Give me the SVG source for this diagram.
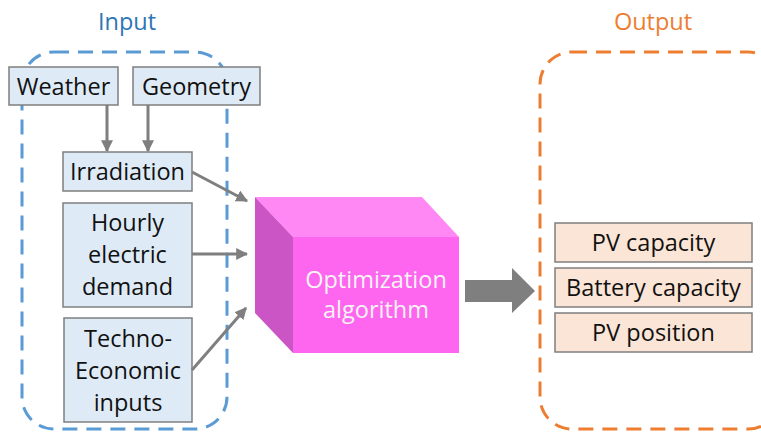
<svg xmlns="http://www.w3.org/2000/svg" width="761" height="433" viewBox="0 0 761 433">
<defs>
<style>
.t{font-family:"Open Sans","Liberation Sans",sans-serif;font-size:23.5px;fill:#111;text-anchor:middle}
.lbl{font-family:"Open Sans","Liberation Sans",sans-serif;font-size:23.5px;text-anchor:middle}
.in{fill:#DEEBF7;stroke:#7F7F7F;stroke-width:1.5}
.out{fill:#FBE5D6;stroke:#7F7F7F;stroke-width:1.5}
.c{stroke:#7F7F7F;stroke-width:3;fill:none;marker-end:url(#ah)}
</style>
<marker id="ah" viewBox="0 0 10 10" refX="9" refY="5" markerWidth="4" markerHeight="4" orient="auto" markerUnits="strokeWidth">
<path d="M0,0 L10,5 L0,10 z" fill="#7F7F7F"/>
</marker>
</defs>
<rect width="761" height="433" fill="#fff"/>
<g id="input-group">
<rect x="22" y="52" width="205" height="377" rx="32" fill="none" stroke="#5B9BD5" stroke-width="3" stroke-dasharray="15 9"/>
<text class="lbl" x="127" y="30" fill="#2E75B6">Input</text>
</g>
<g id="output-group">
<rect x="540" y="52" width="240" height="377" rx="32" fill="none" stroke="#ED7D31" stroke-width="3" stroke-dasharray="15 9"/>
<text class="lbl" x="653" y="30" fill="#ED7D31">Output</text>
</g>
<g id="weather"><rect class="in" x="9" y="67" width="109" height="38"/><text class="t" x="63.5" y="95">Weather</text></g>
<g id="geometry"><rect class="in" x="133" y="67" width="127" height="38"/><text class="t" x="196.5" y="95">Geometry</text></g>
<g id="irradiation"><rect class="in" x="63" y="152" width="129" height="39"/><text class="t" x="127.5" y="180">Irradiation</text></g>
<g id="hourly"><rect class="in" x="63" y="203" width="129" height="104"/><text class="t" x="127.5" y="231">Hourly</text><text class="t" x="127.5" y="263">electric</text><text class="t" x="127.5" y="295">demand</text></g>
<g id="techno"><rect class="in" x="64" y="318" width="128" height="104"/><text class="t" x="128" y="347">Techno-</text><text class="t" x="128" y="379">Economic</text><text class="t" x="128" y="411">inputs</text></g>
<g id="optimization">
<polygon points="255,197 422,197 459,237 293,237" fill="#FF88F5"/>
<polygon points="255,197 293,237 293,353 255,313" fill="#CC55C5"/>
<rect x="293" y="237" width="166" height="116" fill="#FF66F0"/>
<text class="lbl" x="376" y="288" fill="#F4F4F4">Optimization</text>
<text class="lbl" x="376" y="318" fill="#F4F4F4">algorithm</text>
</g>
<g id="pv-capacity"><rect class="out" x="555" y="223" width="197" height="39"/><text class="t" x="653.5" y="251">PV capacity</text></g>
<g id="battery-capacity"><rect class="out" x="555" y="268" width="197" height="39"/><text class="t" x="653.5" y="296">Battery capacity</text></g>
<g id="pv-position"><rect class="out" x="555" y="313" width="197" height="39"/><text class="t" x="653.5" y="341">PV position</text></g>
<g id="connectors">
<line class="c" x1="107" y1="105" x2="107" y2="151"/>
<line class="c" x1="148" y1="105" x2="148" y2="151"/>
<line class="c" x1="192" y1="172" x2="247" y2="201"/>
<line class="c" x1="192" y1="254" x2="247" y2="254"/>
<line class="c" x1="192" y1="370" x2="246" y2="308"/>
<polygon points="465,280 512,280 512,268 535,291 512,313 512,302 465,302" fill="#7F7F7F"/>
</g>
</svg>
